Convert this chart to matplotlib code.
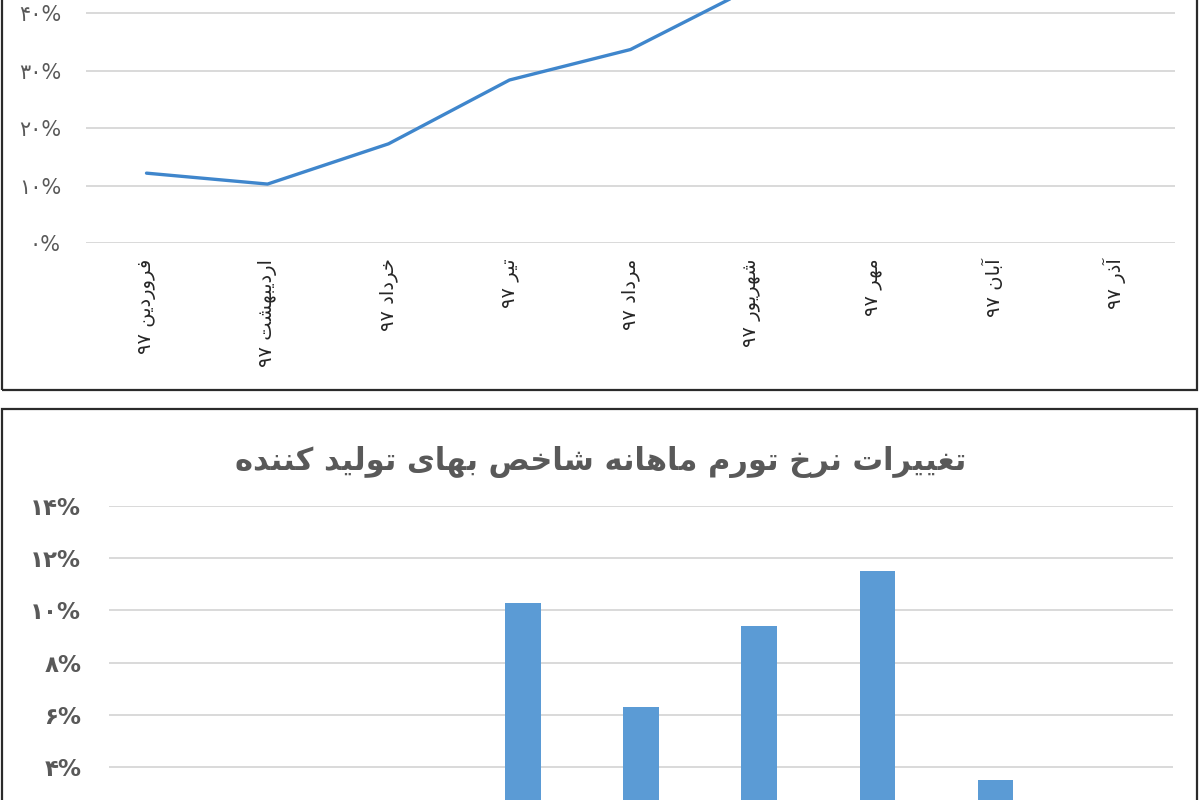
import matplotlib
matplotlib.use("Agg")
import matplotlib.pyplot as plt
from matplotlib.patches import Rectangle
import numpy as np

# data (values in percent)
months = ["فروردین ۹۷", "اردیبهشت ۹۷", "خرداد ۹۷", "تیر ۹۷", "مرداد ۹۷",
          "شهریور ۹۷", "مهر ۹۷", "آبان ۹۷", "آذر ۹۷"]
annual_ppi = [12.2, 10.3, 17.3, 28.4, 33.7, 44.4, 56.0, 61.0, 64.0]
monthly_ppi = [2.1, 1.4, 2.4, 10.3, 6.3, 9.4, 11.5, 3.5, 1.2]
top_ticks = [0, 10, 20, 30, 40]
bottom_ticks = [4, 6, 8, 10, 12, 14]
title_bottom = "تغییرات نرخ تورم ماهانه شاخص بهای تولید کننده"

# simple persian shaping: contextual forms + visual order
FORMS = {
    'ا': ('\uFE8D', '\uFE8E', None, None), 'آ': ('\uFE81', '\uFE82', None, None),
    'د': ('\uFEA9', '\uFEAA', None, None), 'ذ': ('\uFEAB', '\uFEAC', None, None),
    'ر': ('\uFEAD', '\uFEAE', None, None), 'ز': ('\uFEAF', '\uFEB0', None, None),
    'و': ('\uFEED', '\uFEEE', None, None),
    'ب': ('\uFE8F', '\uFE90', '\uFE91', '\uFE92'), 'ت': ('\uFE95', '\uFE96', '\uFE97', '\uFE98'),
    'خ': ('\uFEA5', '\uFEA6', '\uFEA7', '\uFEA8'), 'ش': ('\uFEB5', '\uFEB6', '\uFEB7', '\uFEB8'),
    'ص': ('\uFEB9', '\uFEBA', '\uFEBB', '\uFEBC'), 'غ': ('\uFECD', '\uFECE', '\uFECF', '\uFED0'),
    'ف': ('\uFED1', '\uFED2', '\uFED3', '\uFED4'), 'ل': ('\uFEDD', '\uFEDE', '\uFEDF', '\uFEE0'),
    'م': ('\uFEE1', '\uFEE2', '\uFEE3', '\uFEE4'), 'ن': ('\uFEE5', '\uFEE6', '\uFEE7', '\uFEE8'),
    'ه': ('\uFEE9', '\uFEEA', '\uFEEB', '\uFEEC'),
    'ی': ('\uFBFC', '\uFBFD', '\uFBFE', '\uFBFF'), 'ک': ('\uFB8E', '\uFB8F', '\uFB90', '\uFB91'),
}


def shape(text):
    out = []
    for i, ch in enumerate(text):
        if ch not in FORMS:
            out.append(ch)
            continue
        prev = text[i - 1] if i > 0 else ''
        nxt = text[i + 1] if i + 1 < len(text) else ''
        join_prev = prev in FORMS and FORMS[prev][2] is not None
        join_next = nxt in FORMS and FORMS[ch][2] is not None
        iso, fin, ini, med = FORMS[ch]
        if join_prev and join_next:
            out.append(med)
        elif join_next:
            out.append(ini)
        elif join_prev:
            out.append(fin)
        else:
            out.append(iso)
    # visual order: reverse, keep digit runs left to right
    runs, cur = [], ''
    for ch in out:
        if ch.isdigit():
            cur += ch
        else:
            if cur:
                runs.append(cur)
                cur = ''
            runs.append(ch)
    if cur:
        runs.append(cur)
    return ''.join(runs[::-1])


def fa_num(s):
    return s.translate(str.maketrans('0123456789', '۰۱۲۳۴۵۶۷۸۹'))


plt.rcParams['font.family'] = ['DejaVu Sans']
W, H = 1200, 800
fig = plt.figure(figsize=(12, 8), dpi=100)

grid_c = '#d9d9d9'
txt_c = '#595959'
x = np.arange(len(months))

# ---- top panel: line chart
ax1 = fig.add_axes([86 / W, 1 - 243.3 / H, 1089 / W, 243.3 / H])
ax1.plot(x, annual_ppi, color='#3f86cc', lw=2.4, solid_capstyle='round')
ax1.set_xlim(-0.5, len(months) - 0.5)
ax1.set_ylim(0, 40 + 13.3 / 5.75)
ax1.set_yticks(top_ticks)
ax1.set_yticklabels([fa_num(str(t)) + '%' for t in top_ticks], fontsize=15, color=txt_c)
ax1.set_xticks(x)
ax1.set_xticklabels([shape(m) for m in months], rotation=90, fontsize=14,
                    color='#262626', va='top', ha='center')
ax1.tick_params(axis='y', length=0, pad=18)
ax1.tick_params(axis='x', length=0, pad=11)
ax1.grid(axis='y', color=grid_c, lw=1.4)
ax1.set_axisbelow(True)
for s in ax1.spines.values():
    s.set_visible(False)

# ---- bottom panel: bar chart
ax2 = fig.add_axes([109 / W, 1 - 871.5 / H, 1064 / W, (871.5 - 506) / H])
ax2.bar(x, monthly_ppi, width=0.3, color='#5b9bd5')
ax2.set_xlim(-0.5, len(months) - 0.5)
ax2.set_ylim(0, 14)
ax2.set_yticks(bottom_ticks)
ax2.set_yticklabels([fa_num(str(t)) + '%' for t in bottom_ticks], fontsize=16.5,
                    fontweight='bold', color=txt_c)
ax2.set_xticks([])
ax2.tick_params(axis='y', length=0, pad=20)
ax2.grid(axis='y', color=grid_c, lw=1.4)
ax2.set_axisbelow(True)
for s in ax2.spines.values():
    s.set_visible(False)

fig.text(601 / W, 1 - 462 / H, shape(title_bottom), ha='center', va='center',
         fontsize=22, fontweight='bold', color=txt_c)

# panel frames
fig.patches.append(Rectangle((1.5 / W, 1 - 390.5 / H), 1195 / W, 400 / H,
                             transform=fig.transFigure, fill=False,
                             edgecolor='#2b2b2b', lw=1.6))
fig.patches.append(Rectangle((1.5 / W, -0.2), 1195 / W, 0.2 + 1 - 409 / H,
                             transform=fig.transFigure, fill=False,
                             edgecolor='#2b2b2b', lw=1.6))

fig.savefig('out.png', dpi=100)
